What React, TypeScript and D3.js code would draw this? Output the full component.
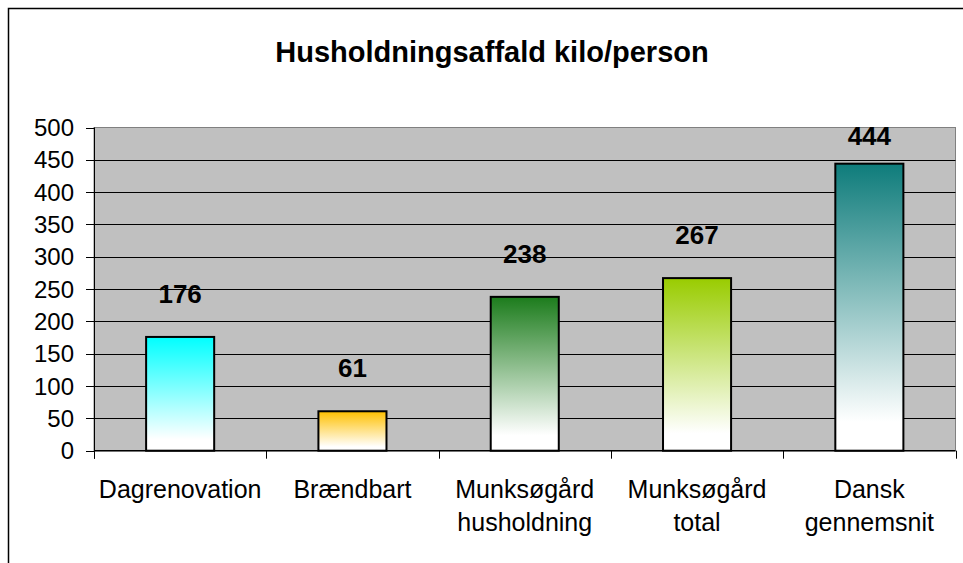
import React from "react";
import * as d3 from "d3";

const title = "Husholdningsaffald kilo/person";
const categories = [
  ["Dagrenovation"],
  ["Brændbart"],
  ["Munksøgård", "husholdning"],
  ["Munksøgård", "total"],
  ["Dansk", "gennemsnit"],
];
const values = [176, 61, 238, 267, 444];
const barColors = ["#00FFFF", "#FFC000", "#1C7C1C", "#99CC00", "#0E7C7B"];
const yTicks = [0, 50, 100, 150, 200, 250, 300, 350, 400, 450, 500];

const W = 963;
const H = 563;
const plot = { left: 94, right: 955.5, top: 127.5, bottom: 450.7 };
const FONT = "'Liberation Sans', Arial, sans-serif";

export default function App() {
  const x = d3
    .scaleBand<number>()
    .domain(d3.range(values.length))
    .range([plot.left, plot.right])
    .paddingInner(0.605)
    .paddingOuter(0.3025);
  const y = d3.scaleLinear().domain([0, 500]).range([plot.bottom, plot.top]);
  const step = (plot.right - plot.left) / values.length;

  return (
    <svg
      width={W}
      height={H}
      style={{ position: "absolute", left: 0, top: 0, background: "#fff" }}
    >
      <defs>
        {barColors.map((c, i) => (
          <linearGradient key={i} id={`g${i}`} x1="0" y1="0" x2="0" y2="1">
            <stop offset="0" stopColor={c} />
            <stop offset="0.9" stopColor="#ffffff" />
            <stop offset="1" stopColor="#ffffff" />
          </linearGradient>
        ))}
      </defs>
      <rect x={8.5} y={8.5} width={1000} height={700} fill="#fff" stroke="#000" strokeWidth={1.5} />
      <text
        x={492}
        y={62}
        textAnchor="middle"
        fontFamily={FONT}
        fontWeight="bold"
        fontSize={29}
      >
        {title}
      </text>
      {/* plot background */}
      <rect
        x={plot.left}
        y={plot.top}
        width={plot.right - plot.left}
        height={plot.bottom - plot.top}
        fill="#C0C0C0"
        stroke="#808080"
        strokeWidth={1}
      />
      {yTicks.map((t) => (
        <g key={t}>
          {t > 0 && t < 500 && (
            <line
              x1={plot.left}
              x2={plot.right}
              y1={Math.round(y(t)) + 0.5}
              y2={Math.round(y(t)) + 0.5}
              stroke="#000"
              strokeWidth={1}
            />
          )}
          <line
            x1={86}
            x2={plot.left}
            y1={Math.round(y(t)) + 0.5}
            y2={Math.round(y(t)) + 0.5}
            stroke="#000"
            strokeWidth={1}
          />
          <text
            x={74}
            y={y(t) + 8.5}
            textAnchor="end"
            fontFamily={FONT}
            fontSize={24}
          >
            {t}
          </text>
        </g>
      ))}
      {/* bars */}
      {values.map((v, i) => (
        <rect
          key={i}
          x={x(i)}
          y={y(v)}
          width={x.bandwidth()}
          height={y(0) - y(v)}
          fill={`url(#g${i})`}
          stroke="#000"
          strokeWidth={2}
        />
      ))}
      {/* axes */}
      <line x1={plot.left + 0.5} x2={plot.left + 0.5} y1={plot.top} y2={plot.bottom + 8} stroke="#000" />
      <line x1={plot.left} x2={plot.right} y1={plot.bottom} y2={plot.bottom} stroke="#000" strokeWidth={1.5} />
      {d3.range(values.length + 1).map((i) => (
        <line
          key={i}
          x1={Math.round(plot.left + i * step) + 0.5}
          x2={Math.round(plot.left + i * step) + 0.5}
          y1={plot.bottom}
          y2={plot.bottom + 8}
          stroke="#000"
        />
      ))}
      {/* value labels */}
      {values.map((v, i) => (
        <text
          key={i}
          x={x(i)! + x.bandwidth() / 2}
          y={Math.max(y(v) - 34, y(500) + 17.5)}
          textAnchor="middle"
          fontFamily={FONT}
          fontWeight="bold"
          fontSize={26}
        >
          {v}
        </text>
      ))}
      {/* category labels */}
      {categories.map((lines, i) => (
        <text
          key={i}
          x={x(i)! + x.bandwidth() / 2}
          y={498}
          textAnchor="middle"
          fontFamily={FONT}
          fontSize={25}
        >
          {lines.map((l, j) => (
            <tspan key={j} x={x(i)! + x.bandwidth() / 2} dy={j === 0 ? 0 : 33}>
              {l}
            </tspan>
          ))}
        </text>
      ))}
    </svg>
  );
}
